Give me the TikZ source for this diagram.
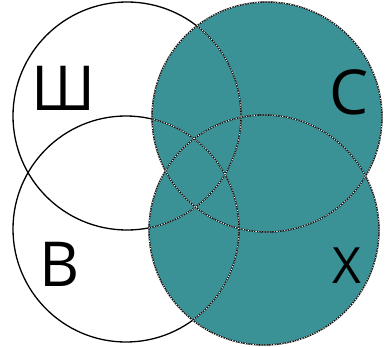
\documentclass[tikz,border=0pt]{standalone}
\usepackage{fontspec}
\setmainfont{Open Sans}
\definecolor{vennTeal}{HTML}{3A9297}
\tikzset{
  ring/.style={draw=black,line width=1.3pt},
  dashring/.style={draw=white,line width=0.7pt,dash pattern=on 1.3pt off 1.3pt},
  letter/.style={inner sep=0pt,font=\fontsize{62}{62}\selectfont}
}
\begin{document}
\begin{tikzpicture}[x=1pt,y=-1pt]
  \useasboundingbox (0,0) rectangle (386,346);
  % circle centres
  \coordinate (sh) at (127,116);
  \coordinate (be) at (126,229);
  \coordinate (es) at (267,117);
  \coordinate (kh) at (264,230);
  % shaded union
  \fill[vennTeal] (es) circle[radius=115pt] (kh) circle[radius=115pt];
  \foreach \c/\r in {sh/114,be/113,es/115,kh/115}
    \draw[ring] (\c) circle[radius=\r pt];
  % dashed parts inside the shaded area
  \begin{scope}
    \clip (es) circle[radius=115pt] (kh) circle[radius=115pt];
    \foreach \c/\r in {sh/114,be/113}
      \draw[dashring] (\c) circle[radius=\r pt];
  \end{scope}
  \foreach \c in {es,kh}
    \draw[dashring] (\c) circle[radius=115pt];
  % labels
  \node[letter] (lsh) at (63,88) {Ш};
  \node[letter] (les) at (349,92) {С};
  \node[letter] (lbe) at (60,264) {В};
  \node[letter,font=\fontsize{50}{50}\selectfont] (lkh) at (347,266) {Х};
\end{tikzpicture}
\end{document}
